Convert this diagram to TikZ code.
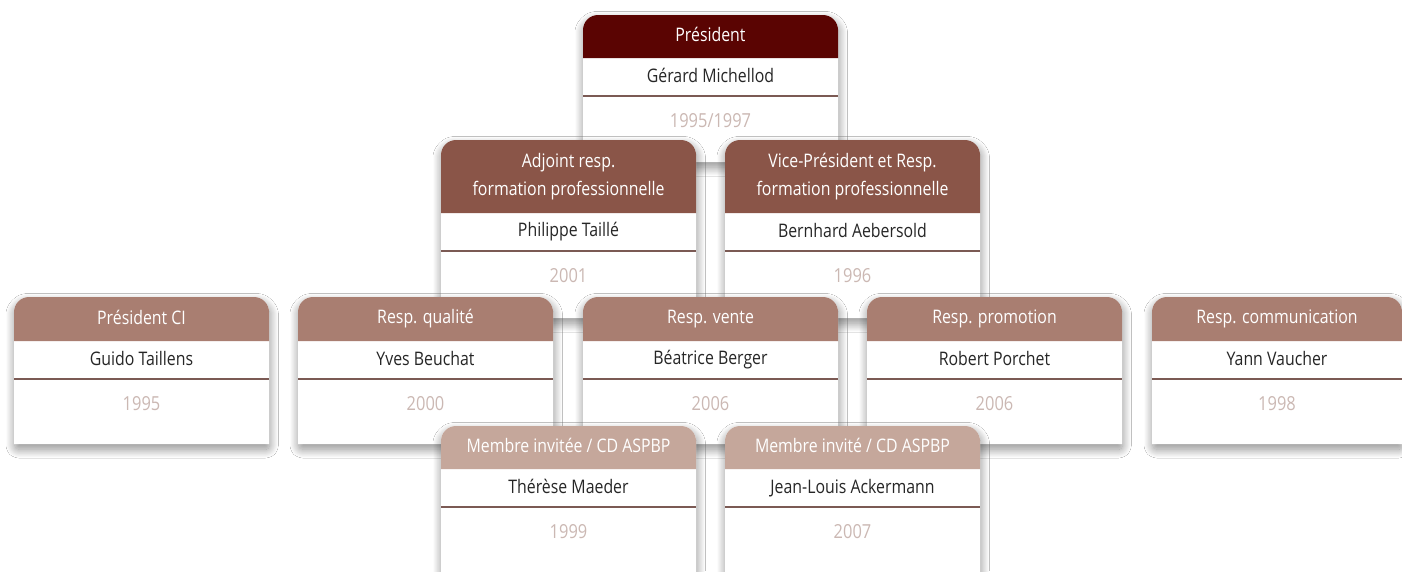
\documentclass[tikz,border=0pt]{standalone}
\usepackage{fontspec}
\setmainfont{Open Sans}[FakeStretch=0.85]
\usetikzlibrary{shadows.blur}
\definecolor{hdA}{HTML}{5A0402}
\definecolor{hdB}{HTML}{8A5548}
\definecolor{hdC}{HTML}{A97E71}
\definecolor{hdD}{HTML}{C5A79B}
\definecolor{divcol}{HTML}{7B5A54}
\definecolor{yearcol}{HTML}{CBB8B3}
\definecolor{namecol}{HTML}{262626}
\newcommand\cs{\rule[-3pt]{0pt}{13pt}}
\tikzset{
  cardbody/.style={fill=white, blur shadow={shadow blur steps=30, shadow xshift=0.5pt, shadow yshift=-4pt, shadow blur radius=6.5pt, shadow opacity=45, shadow blur extra rounding=3pt}},
  divline/.style={draw=divcol, line width=1.6pt},
  titletext/.style={text=white, font=\fontsize{14}{21.5}\selectfont, align=center, inner sep=0pt},
  persontext/.style={text=namecol, font=\fontsize{14}{17}\selectfont, inner sep=0pt},
  yeartext/.style={text=yearcol, font=\fontsize{14.5}{17}\selectfont, inner sep=0pt}
}
\newcommand\cardshape[1]{(\xl,#1) -- (\xl,\ya) .. controls (\xl,\yc) and (\xc,\yt) .. (\xa,\yt) -- (\xb,\yt) .. controls (\xd,\yt) and (\xr,\yc) .. (\xr,\ya) -- (\xr,#1) -- cycle}
\def\cw{255}
% #1 name, #2 left, #3 top, #4 header height, #5 bottom, #6 colour, #7 title, #8 person, #9 year
\newcommand\orgcard[9]{%
  \pgfmathsetmacro\xl{#2}%
  \pgfmathsetmacro\xr{#2+\cw}%
  \pgfmathsetmacro\xa{#2+15}%
  \pgfmathsetmacro\xb{#2+\cw-15}%
  \pgfmathsetmacro\xc{#2+6.72}%
  \pgfmathsetmacro\xd{#2+\cw-6.72}%
  \pgfmathsetmacro\xm{#2+\cw/2}%
  \pgfmathsetmacro\yt{#3}%
  \pgfmathsetmacro\ya{#3+15}%
  \pgfmathsetmacro\yc{#3+6.72}%
  \pgfmathsetmacro\hb{#3+#4}%
  \pgfmathsetmacro\hm{#3+#4/2}%
  \pgfmathsetmacro\nm{#3+#4+19}%
  \pgfmathsetmacro\dv{#3+#4+38}%
  \pgfmathsetmacro\yy{#3+#4+64}%
  \pgfmathsetmacro\bo{#5}%
  \path[cardbody] \cardshape{\bo};
  \fill[#6] \cardshape{\hb};
  \draw[divline] (\xl,\dv) -- (\xr,\dv);
  \node[titletext] (#1-title) at (\xm,\hm) {\cs #7};
  \node[persontext] (#1-name) at (\xm,\nm) {\cs #8};
  \node[yeartext] (#1-year) at (\xm,\yy) {\cs #9};
}
\begin{document}
\begin{tikzpicture}[x=0.75pt, y=-0.75pt]
\fill[white] (0,0) rectangle (1402,571);
\useasboundingbox (0,0) rectangle (1402,571);
\orgcard{pres}{583}{15}{43}{162}{hdA}{Président}{Gérard Michellod}{1995/1997}
\orgcard{adj}{441}{140}{73}{318}{hdB}{Adjoint resp.\\\cs formation professionnelle}{Philippe Taillé}{2001}
\orgcard{vice}{725}{140}{73}{318}{hdB}{Vice-Président et Resp.\\\cs formation professionnelle}{Bernhard Aebersold}{1996}
\orgcard{ci}{14}{297}{44}{444}{hdC}{Président CI}{Guido Taillens}{1995}
\orgcard{qual}{298}{297}{44}{444}{hdC}{Resp. qualité}{Yves Beuchat}{2000}
\orgcard{vente}{583}{297}{44}{444}{hdC}{Resp. vente}{Béatrice Berger}{2006}
\orgcard{promo}{867}{297}{44}{444}{hdC}{Resp. promotion}{Robert Porchet}{2006}
\def\cw{250}
\orgcard{comm}{1152}{297}{44}{444}{hdC}{Resp. communication}{Yann Vaucher}{1998}
\def\cw{255}
\orgcard{memA}{441}{426}{43}{600}{hdD}{Membre invitée / CD ASPBP}{Thérèse Maeder}{1999}
\orgcard{memB}{725}{426}{43}{600}{hdD}{Membre invité / CD ASPBP}{Jean-Louis Ackermann}{2007}
\end{tikzpicture}
\end{document}
